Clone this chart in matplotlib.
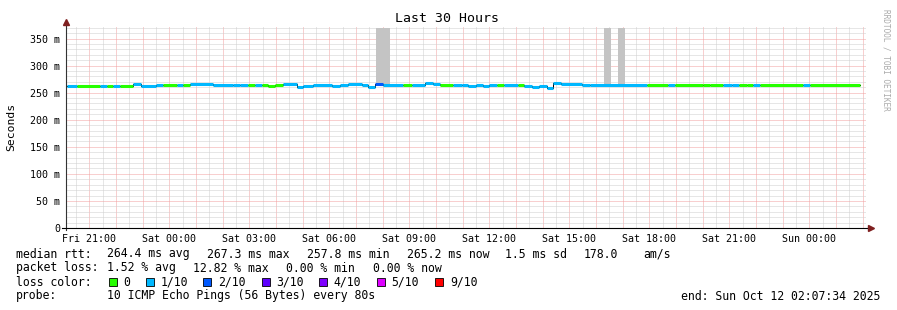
import numpy as np
import pandas as pd
import matplotlib
matplotlib.use("Agg")
import matplotlib.pyplot as plt
import matplotlib.dates as mdates
from matplotlib.patches import Rectangle
from matplotlib.ticker import FuncFormatter

W, H = 897, 310

# time window
t_start = pd.Timestamp("2025-10-10 20:07:34")
t_end = t_start + pd.Timedelta(hours=30)

# median rtt steps: start (minutes after t_start), value (ms), loss class
seg_min = [2, 25, 77, 92, 106, 122, 151, 169, 203, 218, 250, 263, 279, 331,
           376, 392, 410, 425, 441, 455, 470, 488, 520, 533, 556, 599, 617,
           635, 666, 680, 695, 713, 758, 779, 808, 826, 842, 871, 891, 905,
           923, 938, 952, 970, 986, 1017, 1031, 1049, 1064, 1082, 1096, 1114,
           1161, 1179, 1307, 1355, 1370, 1433, 1449, 1478, 1499, 1514, 1532,
           1546, 1562, 1658, 1674]
seg_end_min = 1787
seg_ms = [262, 262, 262, 262, 262, 262.5, 266, 262, 264, 264, 264, 265, 265.5,
          265, 265, 265, 265, 265, 265, 262, 264, 266, 261, 263, 265, 262, 264,
          266, 264, 261, 266, 265, 264, 265, 268, 266, 265, 265, 264, 262,
          265, 262, 265, 265, 265, 265, 262, 261, 263, 259, 268, 266, 265,
          265, 265, 265, 265, 264, 265, 265, 264, 264, 265, 265, 265, 265, 265]
seg_loss = [1, 0, 1, 0, 1, 0, 1, 1, 1, 0, 1, 0, 1, 1, 1, 1, 0, 1, 0, 0, 0, 1,
            1, 1, 1, 1, 1, 1, 1, 1, 2, 1, 0, 1, 1, 1, 0, 1, 1, 1, 1, 1, 1, 0,
            1, 0, 1, 1, 1, 1, 1, 1, 1, 1, 0, 1, 0, 0, 0, 1, 1, 0, 0, 1, 0, 1, 0]

# smoke bars reaching the top
smoke_start_min = [698, 1211, 1242]
smoke_end_min = [729, 1226, 1258]
smoke_base_ms = [266, 265, 265]
smoke_top_ms = 370

loss_labels = ["0", "1/10", "2/10", "3/10", "4/10", "5/10", "9/10"]
loss_colors = ["#26ff00", "#00b8ff", "#0059ff", "#5e00ff", "#7e00ff", "#dd00ff", "#ff0000"]

rtt_items = ["median rtt:", "264.4 ms avg", "267.3 ms max", "257.8 ms min",
             "265.2 ms now", "1.5 ms sd", "178.0", "am/s"]
loss_items = ["packet loss:", "1.52 % avg", "12.82 % max", "0.00 % min", "0.00 % now"]
probe_text = "10 ICMP Echo Pings (56 Bytes) every 80s"
end_text = "end: Sun Oct 12 02:07:34 2025"

MONO = "DejaVu Sans Mono"


def fx(x):
    return x / W


def fy(y):
    return 1 - y / H


def to_num(minutes):
    ts = t_start + pd.to_timedelta(np.asarray(minutes, dtype=float), unit="min")
    return mdates.date2num(ts.to_pydatetime())


fig = plt.figure(figsize=(W / 100, H / 100), dpi=100)
fig.patch.set_facecolor("white")
ax = fig.add_axes([fx(66), fy(228), 800 / W, 201 / H])
ax.set_facecolor("white")

x0, x1 = to_num([0, 1800])
ax.set_xlim(x0, x1)
ax.set_ylim(0, 371.3)

# grid
ax.set_yticks(np.arange(0, 351, 50))
ax.set_yticks(np.arange(0, 371, 10), minor=True)
ax.xaxis.set_major_locator(mdates.HourLocator())
ax.xaxis.set_minor_locator(mdates.MinuteLocator(byminute=[30]))


def xfmt(v, pos):
    d = mdates.num2date(v)
    return d.strftime("%a %H:%M") if d.hour % 3 == 0 else ""


ax.xaxis.set_major_formatter(FuncFormatter(xfmt))
ax.yaxis.set_major_formatter(FuncFormatter(lambda v, p: "0" if v == 0 else f"{int(v)} m"))
ax.grid(which="minor", color="#cfcfcf", linestyle=(0, (1, 1)), linewidth=0.72)
ax.grid(which="major", color="#f2a0a0", linestyle=(0, (1, 1)), linewidth=0.72)
ax.set_axisbelow(True)
for s in ax.spines.values():
    s.set_visible(False)
ax.tick_params(which="both", labelsize=7.2, length=0)
ax.tick_params(axis="x", pad=4)
ax.tick_params(axis="y", pad=4)
for lab in ax.get_xticklabels() + ax.get_yticklabels():
    lab.set_family(MONO)

# smoke
for s, e, b in zip(smoke_start_min, smoke_end_min, smoke_base_ms):
    xs = to_num([s, e])
    ax.fill_between(xs, [b, b], [smoke_top_ms, smoke_top_ms], color="#c4c4c4", linewidth=0, zorder=2)

# median line
edges = to_num(seg_min + [seg_end_min])
ax.step(edges, seg_ms + [seg_ms[-1]], where="post", color="black", linewidth=0.7, zorder=3)
ax.hlines(seg_ms, edges[:-1], edges[1:], colors=[loss_colors[c] for c in seg_loss],
          linewidth=2.2, capstyle="butt", zorder=4)

# axes with arrows
ax.plot([0, 0], [-0.01, 1.02], transform=ax.transAxes, color="#333333", lw=0.8, clip_on=False, zorder=5)
ax.plot([-0.005, 1.005], [0, 0], transform=ax.transAxes, color="black", lw=0.8, clip_on=False, zorder=5)
ax.plot([0], [1.027], transform=ax.transAxes, marker="^", ms=4, color="#7f1f1f", clip_on=False, zorder=6)
ax.plot([1.006], [0], transform=ax.transAxes, marker=">", ms=4, color="#7f1f1f", clip_on=False, zorder=6)

# titles
fig.text(fx(447), fy(19), "Last 30 Hours", ha="center", va="center", family=MONO, fontsize=9.5)
fig.text(fx(11), fy(127), "Seconds", ha="center", va="center", rotation=90, family=MONO, fontsize=8.2)
fig.text(fx(886), fy(60), "RRDTOOL / TOBI OETIKER", ha="center", va="center", rotation=270,
         family=MONO, fontsize=5.6, color="#aaaaaa")

# legend
fs = 8.3
for txt, x in zip(rtt_items, [16, 107, 207, 307, 407, 505, 584, 643]):
    fig.text(fx(x), fy(254), txt, ha="left", va="center", family=MONO, fontsize=fs)
for txt, x in zip(loss_items, [16, 107, 193, 286, 373]):
    fig.text(fx(x), fy(268), txt, ha="left", va="center", family=MONO, fontsize=fs)
fig.text(fx(16), fy(282), "loss color:", ha="left", va="center", family=MONO, fontsize=fs)
sq_x = [109, 146, 203, 262, 319, 377, 435]
lab_x = [123, 161, 218, 276, 333, 391, 450]
for lab, col, sx, lx in zip(loss_labels, loss_colors, sq_x, lab_x):
    fig.patches.append(Rectangle((fx(sx), fy(286)), 8 / W, 8 / H, transform=fig.transFigure,
                                 facecolor=col, edgecolor="black", linewidth=0.6))
    fig.text(fx(lx), fy(282), lab, ha="left", va="center", family=MONO, fontsize=fs)
fig.text(fx(16), fy(296), "probe:", ha="left", va="center", family=MONO, fontsize=fs)
fig.text(fx(107), fy(296), probe_text, ha="left", va="center", family=MONO, fontsize=fs)
fig.text(fx(880), fy(296), end_text, ha="right", va="center", family=MONO, fontsize=fs)

fig.savefig("out.png", dpi=100)
